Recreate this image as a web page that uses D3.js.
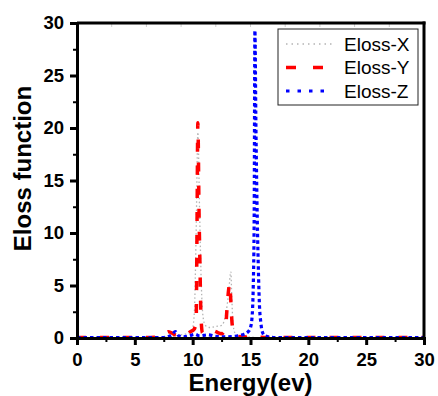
<!DOCTYPE html>
<html>
<head>
<meta charset="utf-8">
<script src="https://cdn.jsdelivr.net/npm/d3@7"></script>
<style>
  body { margin: 0; background: #fff; }
  svg { display: block; font-family: Arial, "Liberation Sans", sans-serif; }
</style>
</head>
<body>
<div id="chart"></div>
<script>
// Eloss-X (grey dotted)
const xEnergy = [0, 2, 4, 6, 7, 8, 9, 9.7, 10.0, 10.15, 10.3, 10.45, 10.6, 10.75, 10.9, 11.1, 11.5, 12.0, 12.5, 12.9, 13.1, 13.3, 13.38, 13.48, 13.65, 14.0, 15.0, 16.0, 18, 20, 22, 24, 26, 28, 30];
const xLoss   = [0, 0, 0, 0, 0.05, 0.1, 0.3, 0.5, 1.0, 2.5, 10, 19.6, 12, 5, 2, 1.2, 1.0, 1.1, 1.2, 2.5, 4.2, 6.3, 4.0, 1.5, 0.5, 0.2, 0.1, 0, 0, 0, 0, 0, 0, 0, 0];

// Eloss-Y (red dashed)
const yEnergy = [0, 2, 4, 6, 7, 7.5, 7.9, 8.5, 9.2, 9.8, 10.1, 10.3, 10.36, 10.45, 10.55, 10.63, 10.72, 10.85, 11.1, 11.5, 12.0, 12.5, 12.85, 12.95, 13.1, 13.2, 13.3, 13.4, 13.55, 13.8, 14.5, 15.0, 15.5, 16.5, 18, 20, 22, 24, 26, 28, 30];
const yLoss   = [0.05, 0.05, 0.05, 0.05, 0.1, 0.3, 0.6, 0.3, 0.2, 0.6, 0.8, 1.5, 8, 20.5, 12, 7, 2, 0.5, 0.6, 0.8, 0.6, 0.4, 1.0, 2.5, 4.5, 5.2, 3.5, 1.5, 0.5, 0.15, 0.1, 0.3, 0.1, 0.05, 0.05, 0.05, 0.05, 0.05, 0.05, 0.05, 0.05];

// Eloss-Z (blue short dash)
const zEnergy = [0, 2, 4, 6, 7.5, 8.2, 8.5, 8.8, 9.2, 9.7, 10.2, 10.6, 11.3, 12.0, 12.8, 13.6, 14.3, 14.8, 15.0, 15.12, 15.24, 15.32, 15.38, 15.47, 15.56, 15.67, 15.76, 15.9, 16.05, 16.25, 17, 18, 20, 22, 24, 26, 28, 30];
const zLoss   = [0.05, 0.05, 0.05, 0.05, 0.05, 0.3, 0.6, 0.2, 0.1, 0.2, 0.35, 0.2, 0.3, 0.15, 0.1, 0.15, 0.3, 0.6, 1.0, 1.8, 5, 12, 29.3, 20, 13, 7, 3.5, 1.4, 0.5, 0.2, 0.05, 0.05, 0.05, 0.05, 0.05, 0.05, 0.05, 0.05];

const xTicks = [0, 5, 10, 15, 20, 25, 30];
const yTicks = [0, 5, 10, 15, 20, 25, 30];

const series = [
  { name: 'Eloss-X', e: xEnergy, v: xLoss, color: '#b4b4b4', width: 1.3, dash: '1.5,2.5', legendDash: '1.5,4' },
  { name: 'Eloss-Y', e: yEnergy, v: yLoss, color: '#ff0000', width: 3.5, dash: '9,14', legendDash: '10,17' },
  { name: 'Eloss-Z', e: zEnergy, v: zLoss, color: '#0000ff', width: 3.2, dash: '3.5,3', legendDash: '3.5,8' }
];

const W = 438, H = 396;
const margin = { top: 23, right: 14, bottom: 58, left: 77 };
const width = W - margin.left - margin.right;
const height = H - margin.top - margin.bottom;

const svg = d3.select('#chart').append('svg')
  .attr('width', W)
  .attr('height', H);

const g = svg.append('g')
  .attr('transform', `translate(${margin.left},${margin.top})`);

const x = d3.scaleLinear().domain([0, 30]).range([0, width]);
const y = d3.scaleLinear().domain([0, 30]).range([height, 0]);

// Data lines
const line = d3.line()
  .x(d => x(d[0]))
  .y(d => y(d[1]))
  .curve(d3.curveMonotoneX);

g.append('clipPath').attr('id', 'plot-clip')
  .append('rect').attr('x', 0).attr('y', 0).attr('width', width).attr('height', height + 2);

const lines = g.append('g').attr('clip-path', 'url(#plot-clip)');
series.forEach(s => {
  lines.append('path')
    .datum(s.e.map((e, i) => [e, s.v[i]]))
    .attr('fill', 'none')
    .attr('stroke', s.color)
    .attr('stroke-width', s.width)
    .attr('stroke-dasharray', s.dash)
    .attr('d', line);
});

// Faint ticks along the top border
const topTicks = d3.range(3, 30, 3);
g.append('g').selectAll('line')
  .data(topTicks)
  .enter().append('line')
  .attr('x1', d => x(d)).attr('x2', d => x(d))
  .attr('y1', 0).attr('y2', 4)
  .attr('stroke', '#ccc').attr('stroke-width', 1);

// Frame: top and right borders
g.append('line').attr('x1', 0).attr('x2', width + 1.5).attr('y1', 0).attr('y2', 0)
  .attr('stroke', '#000').attr('stroke-width', 3);
g.append('line').attr('x1', width).attr('x2', width).attr('y1', -1.5).attr('y2', height)
  .attr('stroke', '#000').attr('stroke-width', 3);

// X axis
const xAxis = g.append('g')
  .attr('transform', `translate(0,${height})`)
  .call(d3.axisBottom(x).tickValues(xTicks).tickSize(7).tickPadding(8).tickFormat(d3.format('d')));
xAxis.select('.domain').attr('stroke-width', 3);
xAxis.selectAll('.tick line').attr('stroke-width', 3);
xAxis.selectAll('text').style('font-size', '18.5px').style('font-weight', 'bold').attr('fill', '#000');
// x minor ticks
g.append('g').attr('transform', `translate(0,${height})`)
  .call(d3.axisBottom(x).tickValues(xTicks.slice(0, -1).map(d => d + 2.5)).tickSize(4).tickFormat(''))
  .call(a => a.select('.domain').remove())
  .selectAll('.tick line').attr('stroke-width', 2);

// Y axis
const yAxis = g.append('g')
  .call(d3.axisLeft(y).tickValues(yTicks).tickSize(7).tickPadding(6).tickFormat(d3.format('d')));
yAxis.select('.domain').attr('stroke-width', 3);
yAxis.selectAll('.tick line').attr('stroke-width', 3);
yAxis.selectAll('text').style('font-size', '18.5px').style('font-weight', 'bold').attr('fill', '#000');
g.append('g')
  .call(d3.axisLeft(y).tickValues(yTicks.slice(0, -1).map(d => d + 2.5)).tickSize(4).tickFormat(''))
  .call(a => a.select('.domain').remove())
  .selectAll('.tick line').attr('stroke-width', 2);

// Axis titles
svg.append('text')
  .attr('x', margin.left + width / 2)
  .attr('y', 391)
  .attr('text-anchor', 'middle')
  .style('font-size', '24px')
  .style('font-weight', 'bold')
  .text('Energy(ev)');

svg.append('text')
  .attr('transform', `translate(31,${margin.top + height / 2 - 12}) rotate(-90)`)
  .attr('text-anchor', 'middle')
  .style('font-size', '24px')
  .style('font-weight', 'bold')
  .text('Eloss function');

// Legend
const legend = svg.append('g').attr('transform', 'translate(278,29)');
legend.append('rect')
  .attr('width', 140).attr('height', 76)
  .attr('fill', '#fff').attr('stroke', '#222').attr('stroke-width', 1);
series.forEach((s, i) => {
  const row = legend.append('g').attr('transform', `translate(0,${15 + i * 23.5})`);
  row.append('line')
    .attr('x1', 8).attr('x2', 54)
    .attr('stroke', s.color)
    .attr('stroke-width', s.width)
    .attr('stroke-dasharray', s.legendDash);
  row.append('text')
    .attr('x', 66).attr('dy', '0.35em')
    .style('font-size', '19px')
    .text(s.name);
});
</script>
</body>
</html>
